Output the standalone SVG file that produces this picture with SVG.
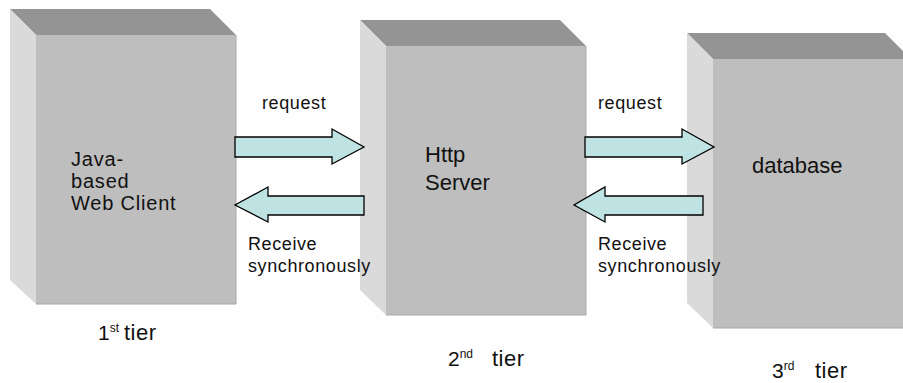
<svg xmlns="http://www.w3.org/2000/svg" width="903" height="383" viewBox="0 0 903 383">
<defs>
<style>
.top{fill:#949494}
.side{fill:#dadada}
.front{fill:#bebebe}
.edge{stroke:#a8a8a8;stroke-width:1;fill:none}
.lbl{font-family:"Liberation Sans",Arial,sans-serif;font-size:22px;fill:#111}
.lbl2{font-family:"Liberation Sans",Arial,sans-serif;font-size:20px;letter-spacing:0.8px;fill:#111}
.sm{font-family:"Liberation Sans",Arial,sans-serif;font-size:18px;letter-spacing:0.6px;fill:#111}
.tier{font-family:"Liberation Sans",Arial,sans-serif;font-size:21px;fill:#111}
.sup{font-size:12px}
.tw{font-size:22px;letter-spacing:0.5px}
.arrow{fill:#bfe3e3;stroke:#000;stroke-width:1.3;stroke-linejoin:miter}
</style>
</defs>
<rect width="903" height="383" fill="#fefefe"/>
<g id="node-client">
<polygon class="top" points="10,9 210,9 236,35 36,35"/>
<polygon class="side" points="10,9 36,35 36,304 10,280"/>
<rect class="front" x="36" y="35" width="200" height="269"/>
<polyline class="edge" points="36,304 236,304 236,35"/>
<text class="lbl2" x="71" y="166">Java-</text>
<text class="lbl2" x="71" y="188">based</text>
<text class="lbl2" x="71" y="210">Web Client</text>
</g>
<g id="node-server">
<polygon class="top" points="360,20 560,20 586,46 386,46"/>
<polygon class="side" points="360,20 386,46 386,315 360,290"/>
<rect class="front" x="386" y="46" width="200" height="269"/>
<polyline class="edge" points="386,315 586,315 586,46"/>
<text class="lbl" x="425" y="162">Http</text>
<text class="lbl" x="425" y="190">Server</text>
</g>
<g id="node-database">
<polygon class="top" points="687,33 885,33 911,59 713,59"/>
<polygon class="side" points="687,33 713,59 713,328 687,303"/>
<rect class="front" x="713" y="59" width="200" height="269"/>
<line class="edge" x1="713" y1="328" x2="903" y2="328"/>
<text class="lbl" x="752" y="173">database</text>
</g>
<g id="connectors">
<polygon class="arrow" points="235,137 332,137 332,129 364,147 332,164 332,157 235,157"/>
<polygon class="arrow" points="364,196 268,196 268,187 235,205 268,222 268,215 364,215"/>
<polygon class="arrow" points="585,137 682,137 682,129 714,147 682,164 682,157 585,157"/>
<polygon class="arrow" points="703,196 605,196 605,187 574,205 605,222 605,215 703,215"/>
<text class="sm" x="262" y="109">request</text>
<text class="sm" x="248" y="250">Receive</text>
<text class="sm" x="248" y="272">synchronously</text>
<text class="sm" x="598" y="109">request</text>
<text class="sm" x="598" y="250">Receive</text>
<text class="sm" x="598" y="272">synchronously</text>
</g>
<g id="tiers">
<text class="tier" x="98" y="340">1<tspan class="sup" dy="-8">st</tspan><tspan class="tw" x="124" dy="8">tier</tspan></text>
<text class="tier" x="448" y="366">2<tspan class="sup" dy="-8">nd</tspan><tspan class="tw" x="492" dy="8">tier</tspan></text>
<text class="tier" x="772" y="378">3<tspan class="sup" dy="-8">rd</tspan><tspan class="tw" x="815" dy="8">tier</tspan></text>
</g>
</svg>
